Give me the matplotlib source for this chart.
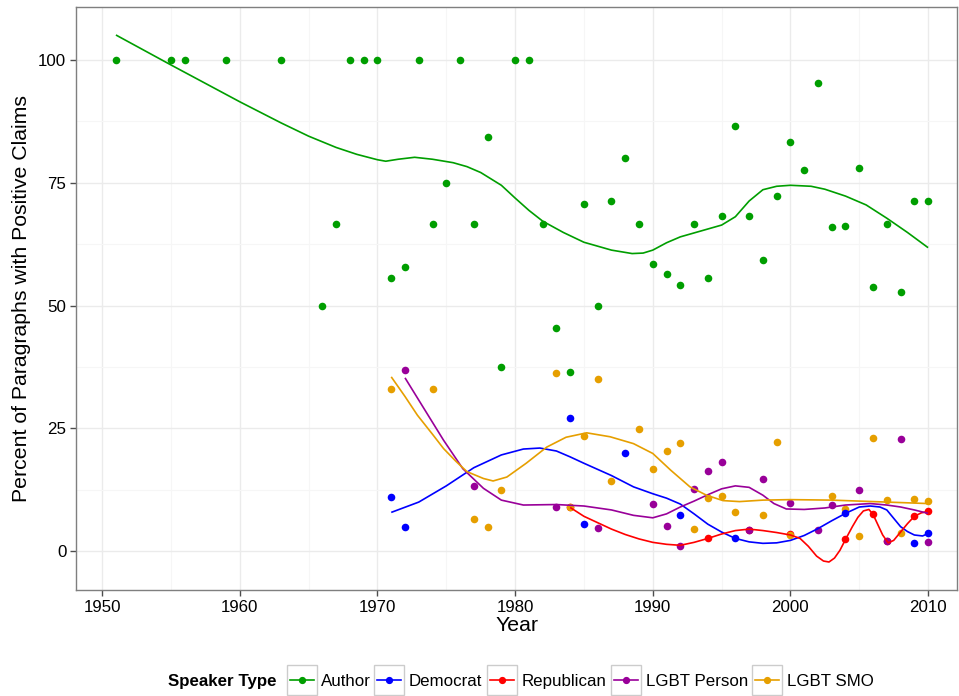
import matplotlib
matplotlib.use("Agg")
import matplotlib.pyplot as plt
from matplotlib.patches import Rectangle
from matplotlib.lines import Line2D
from matplotlib.ticker import MultipleLocator

plt.rcParams['font.family'] = ['Liberation Sans', 'DejaVu Sans']

# ---------------- data ----------------
speakers = ["Author", "Democrat", "Republican", "LGBT Person", "LGBT SMO"]
colors = {"Author": "#009E00", "Democrat": "#0000FF", "Republican": "#FF0000",
          "LGBT Person": "#990099", "LGBT SMO": "#E69F00"}

author_years = [1951, 1955, 1956, 1959, 1963, 1966, 1967, 1968, 1969, 1970, 1971, 1972,
                1973, 1974, 1975, 1976, 1977, 1978, 1979, 1980, 1981, 1982, 1983, 1984,
                1985, 1986, 1987, 1988, 1989, 1990, 1991, 1992, 1993, 1994, 1995, 1996,
                1997, 1998, 1999, 2000, 2001, 2002, 2003, 2004, 2005, 2006, 2007, 2008,
                2009, 2010]
author_vals = [100, 100, 100, 100, 100, 50, 66.7, 100, 100, 100, 55.6, 57.9,
               100, 66.7, 75, 100, 66.7, 84.3, 37.5, 100, 100, 66.7, 45.5, 36.4,
               70.6, 50, 71.4, 80, 66.7, 58.4, 56.4, 54.3, 66.7, 55.6, 68.2, 86.5,
               68.2, 59.2, 72.4, 83.3, 77.7, 95.4, 66.1, 66.3, 78.1, 53.7, 66.7, 52.7,
               71.4, 71.4]

dem_years = [1971, 1972, 1984, 1985, 1988, 1992, 1996, 2004, 2009, 2010]
dem_vals = [11.0, 5.0, 27.2, 5.6, 20.0, 7.3, 2.6, 7.7, 1.7, 3.8]

rep_years = [1984, 1994, 1997, 2000, 2004, 2006, 2007, 2009, 2010]
rep_vals = [8.9, 2.6, 4.4, 3.4, 2.4, 7.5, 2.0, 7.1, 8.1]

person_years = [1972, 1977, 1983, 1986, 1990, 1991, 1992, 1993, 1994, 1995, 1997, 1998,
                2000, 2002, 2003, 2005, 2007, 2008, 2010]
person_vals = [36.8, 13.2, 8.9, 4.8, 9.6, 5.1, 1.0, 12.6, 16.4, 18.1, 4.4, 14.6,
               9.9, 4.4, 9.5, 12.4, 2.0, 22.8, 1.8]

smo_years = [1971, 1974, 1977, 1978, 1979, 1983, 1984, 1985, 1986, 1987, 1989, 1990,
             1991, 1992, 1993, 1994, 1995, 1996, 1998, 1999, 2000, 2003, 2004, 2005,
             2006, 2007, 2008, 2009, 2010]
smo_vals = [33.1, 33.1, 6.5, 5.0, 12.4, 36.3, 8.9, 23.4, 35.0, 14.3, 24.8, 16.8,
            20.3, 22.1, 4.6, 10.9, 11.2, 7.9, 7.3, 22.3, 3.3, 11.2, 8.5, 3.1,
            23.0, 10.4, 3.8, 10.6, 10.2]

# smoothed (loess) curves
author_fit_x = [1951, 1955, 1960, 1963, 1965, 1967, 1968.5, 1970, 1970.6, 1971.5, 1972.7,
                1974, 1975.5, 1976.5, 1977.5, 1979, 1980, 1981, 1982, 1983.5, 1985, 1987,
                1988.5, 1989.3, 1990, 1991, 1992, 1993.5, 1995, 1996, 1997, 1998, 1999,
                2000, 2001.5, 2002.5, 2004, 2005.5, 2007, 2008.5, 2010]
author_fit_y = [105.1, 99.0, 91.5, 87.2, 84.5, 82.2, 80.8, 79.7, 79.4, 79.8, 80.2,
                79.8, 79.1, 78.3, 77.1, 74.5, 71.9, 69.4, 67.2, 64.9, 62.9, 61.3,
                60.6, 60.7, 61.3, 62.8, 64.0, 65.2, 66.4, 68.1, 71.3, 73.6, 74.3,
                74.5, 74.3, 73.7, 72.3, 70.5, 67.8, 64.9, 61.8]

dem_fit_x = [1971, 1973, 1975, 1977, 1979, 1980.6, 1981.8, 1983, 1984, 1985, 1987, 1988.6,
             1990, 1991, 1992, 1993, 1994, 1995, 1996, 1997, 1998, 1999, 2000, 2001, 2002,
             2003, 2004, 2005, 2005.8, 2006.5, 2007, 2007.5, 2008, 2008.5, 2009, 2009.6, 2010]
dem_fit_y = [7.9, 10.0, 13.3, 17.0, 19.6, 20.8, 21.0, 20.4, 19.2, 17.9, 15.4, 13.1,
             11.7, 10.8, 9.6, 7.6, 5.5, 3.9, 2.6, 1.9, 1.6, 1.7, 2.2, 3.2, 4.6,
             6.2, 7.7, 9.0, 9.2, 9.0, 8.4, 6.7, 5.0, 4.0, 3.3, 3.1, 3.6]

rep_fit_x = [1984, 1985, 1986, 1987, 1988, 1989, 1990, 1991, 1992, 1993, 1994, 1995, 1996,
             1997, 1998, 1999, 2000, 2000.7, 2001.3, 2001.9, 2002.4, 2002.8, 2003.2, 2003.6,
             2004, 2004.5, 2004.9, 2005.3, 2005.7, 2006, 2006.3, 2006.7, 2007.1, 2007.5,
             2008, 2008.5, 2009, 2009.5, 2010]
rep_fit_y = [8.9, 7.1, 5.8, 4.5, 3.4, 2.5, 1.8, 1.4, 1.2, 1.8, 2.6, 3.5, 4.2,
             4.5, 4.2, 3.8, 3.3, 2.6, 1.0, -1.0, -2.0, -2.2, -1.4, 0.2,
             2.4, 5.0, 6.9, 8.2, 8.5, 7.5, 5.7, 3.3, 1.7, 2.2,
             3.9, 5.6, 7.1, 7.8, 8.1]

person_fit_x = [1972, 1973.3, 1974.8, 1976.2, 1977.7, 1979, 1980.6, 1983, 1985, 1987, 1988.6,
                1990, 1991, 1992, 1993, 1994, 1995, 1996, 1997, 1998, 1998.8, 1999.7, 2001,
                2002.5, 2004, 2005.8, 2007, 2008, 2009, 2010]
person_fit_y = [35.3, 29.4, 22.6, 16.8, 12.8, 10.4, 9.4, 9.5, 9.2, 8.4, 7.3,
                6.8, 7.6, 9.0, 10.2, 11.5, 12.7, 13.3, 13.0, 11.4, 9.7, 8.6, 8.5,
                8.8, 9.4, 9.7, 9.4, 9.0, 8.4, 7.7]

smo_fit_x = [1971, 1972, 1972.9, 1974, 1974.8, 1975.7, 1976.5, 1977.7, 1978.4, 1979.4, 1980.8,
             1982.3, 1983.7, 1985.2, 1986.9, 1988.6, 1990, 1991.3, 1992.7, 1993.9, 1995.1,
             1996.3, 1998, 2000, 2003, 2006, 2010]
smo_fit_y = [35.5, 31.5, 27.7, 23.8, 20.9, 18.3, 16.2, 14.8, 14.3, 15.1, 17.9,
             21.2, 23.2, 24.1, 23.3, 21.9, 19.9, 16.5, 13.1, 11.4, 10.3,
             10.1, 10.4, 10.5, 10.4, 10.1, 9.7]

points = {"Author": (author_years, author_vals), "Democrat": (dem_years, dem_vals),
          "Republican": (rep_years, rep_vals), "LGBT Person": (person_years, person_vals),
          "LGBT SMO": (smo_years, smo_vals)}
fits = {"Author": (author_fit_x, author_fit_y), "Democrat": (dem_fit_x, dem_fit_y),
        "Republican": (rep_fit_x, rep_fit_y), "LGBT Person": (person_fit_x, person_fit_y),
        "LGBT SMO": (smo_fit_x, smo_fit_y)}

x_ticks = [1950, 1960, 1970, 1980, 1990, 2000, 2010]
y_ticks = [0, 25, 50, 75, 100]

# ---------------- figure ----------------
W, H = 959, 696
fig = plt.figure(figsize=(W / 100, H / 100), dpi=100)
L, R, T, B = 76, 957, 7, 590
ax = fig.add_axes([L / W, 1 - B / H, (R - L) / W, (B - T) / H])

ax.set_xlim(1948.1, 2012.1)
ax.set_ylim(-7.9, 110.8)
ax.set_xticks(x_ticks)
ax.set_yticks(y_ticks)
ax.xaxis.set_minor_locator(MultipleLocator(5))
ax.yaxis.set_minor_locator(MultipleLocator(12.5))
ax.grid(which='major', color='#EBEBEB', linewidth=1.0)
ax.grid(which='minor', color='#F6F6F6', linewidth=0.8)
ax.set_axisbelow(True)
for s in ax.spines.values():
    s.set_color('#7F7F7F')
    s.set_linewidth(1.0)
ax.tick_params(which='major', length=4.5, width=1.0, color='#4D4D4D',
               labelsize=12.2, labelcolor='black', pad=2.5)
ax.tick_params(which='minor', length=0)

draw_order = ["Author", "Republican", "LGBT Person", "LGBT SMO", "Democrat"]
for sp in draw_order:
    xs, ys = points[sp]
    ax.scatter(xs, ys, s=30, color=colors[sp], linewidths=0, zorder=3)
for sp in speakers:
    fx_, fy_ = fits[sp]
    ax.plot(fx_, fy_, color=colors[sp], linewidth=1.2, zorder=4,
            solid_joinstyle='round', solid_capstyle='butt')

ax.set_xlabel("Year", fontsize=15.3, labelpad=1)
ax.set_ylabel("Percent of Paragraphs with Positive Claims", fontsize=15.3, labelpad=5)

# ---------------- legend (ggplot style, horizontal) ----------------
def fx(px):
    return px / W

def fy(py):
    return 1 - py / H

cy = 680
fig.text(fx(168), fy(cy), "Speaker Type", fontsize=12.2, fontweight='bold',
         ha='left', va='center_baseline')
key_lefts = [287, 374, 487, 611, 752]
text_lefts = [321, 409, 522, 646, 787]
ks = 30
for sp, kl, tl in zip(speakers, key_lefts, text_lefts):
    fig.add_artist(Rectangle((fx(kl), fy(cy + ks / 2)), ks / W, ks / H,
                             transform=fig.transFigure, facecolor='white',
                             edgecolor='#CCCCCC', linewidth=1.0))
    fig.add_artist(Line2D([fx(kl + 3), fx(kl + ks - 3)], [fy(cy), fy(cy)],
                          transform=fig.transFigure, color=colors[sp], linewidth=1.2))
    fig.add_artist(Line2D([fx(kl + ks / 2)], [fy(cy)], transform=fig.transFigure,
                          marker='o', markersize=4.2, color=colors[sp], linewidth=0))
    fig.text(fx(tl), fy(cy), sp, fontsize=12.2, ha='left', va='center_baseline')

fig.savefig("out.png", dpi=100)
